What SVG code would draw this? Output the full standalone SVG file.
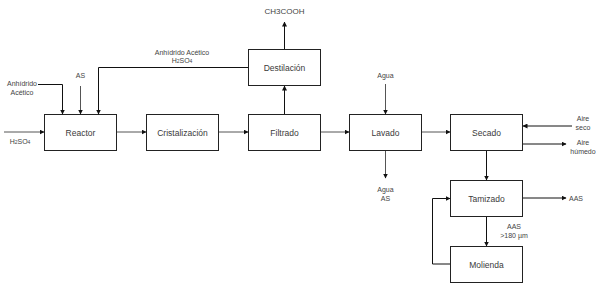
<svg xmlns="http://www.w3.org/2000/svg" width="600" height="285" viewBox="0 0 600 285">
  <style>
    .box rect { fill: #fff; stroke: #222; stroke-width: 1; }
    .box text { font-family: "Liberation Sans", Arial, sans-serif; font-size: 8.5px; fill: #3a3a3a; text-anchor: middle; dominant-baseline: central; }
    .lbl { font-family: "Liberation Sans", Arial, sans-serif; font-size: 7px; fill: #444; text-anchor: middle; }
    .edge { fill: none; stroke: #111; stroke-width: 1; marker-end: url(#arr); }
    .main { stroke: #555; }
    .sub { font-size: 5px; }
  </style>
  <defs>
    <marker id="arr" viewBox="0 0 10 10" refX="9" refY="5" markerWidth="5" markerHeight="5" orient="auto" markerUnits="userSpaceOnUse">
      <path d="M0,0 L10,5 L0,10 z" fill="#111"/>
    </marker>
  </defs>
  <rect width="600" height="285" fill="#fff"/>

  <!-- process units -->
  <g id="reactor" class="box"><rect x="44.5" y="114.5" width="72" height="36"/><text x="80.5" y="132.5">Reactor</text></g>
  <g id="cristalizacion" class="box"><rect x="146.5" y="114.5" width="72" height="36"/><text x="182.5" y="132.5">Cristalización</text></g>
  <g id="filtrado" class="box"><rect x="248.5" y="114.5" width="72" height="36"/><text x="284.5" y="132.5">Filtrado</text></g>
  <g id="destilacion" class="box"><rect x="248.5" y="49.5" width="72" height="36"/><text x="284.5" y="67.5">Destilación</text></g>
  <g id="lavado" class="box"><rect x="349.5" y="114.5" width="72" height="36"/><text x="385.5" y="132.5">Lavado</text></g>
  <g id="secado" class="box"><rect x="450.5" y="114.5" width="72" height="36"/><text x="486.5" y="132.5">Secado</text></g>
  <g id="tamizado" class="box"><rect x="450.5" y="180.5" width="72" height="36"/><text x="486.5" y="198.5">Tamizado</text></g>
  <g id="molienda" class="box"><rect x="450.5" y="246.5" width="72" height="36"/><text x="486.5" y="264.5">Molienda</text></g>

  <!-- streams -->
  <g id="connectors">
    <path class="edge main" d="M4,132 H44"/>
    <path class="edge" d="M38,84.5 H62.5 V114"/>
    <path class="edge main" d="M80.5,86 V114"/>
    <path class="edge" d="M248,67.5 H98.5 V114"/>
    <path class="edge main" d="M117,132 H146"/>
    <path class="edge main" d="M219,132 H248"/>
    <path class="edge" d="M284.5,114 V86"/>
    <path class="edge" d="M284.5,49 V22"/>
    <path class="edge main" d="M321,132 H349"/>
    <path class="edge main" d="M385.5,84 V114"/>
    <path class="edge main" d="M385.5,151 V178"/>
    <path class="edge main" d="M422,132 H450"/>
    <path class="edge" d="M572,126 H523"/>
    <path class="edge" d="M523,144 H566"/>
    <path class="edge" d="M486.5,151 V180"/>
    <path class="edge" d="M523,198 H566"/>
    <path class="edge" d="M486.5,217 V246"/>
    <path class="edge" d="M450,264 H432.5 V198.5 H450"/>
  </g>

  <!-- stream labels -->
  <text class="lbl" x="22" y="86">Anhídrido</text>
  <text class="lbl" x="22" y="95">Acético</text>
  <text class="lbl" x="80.5" y="78">AS</text>
  <text class="lbl" x="20" y="144">H<tspan class="sub">2</tspan>SO<tspan class="sub">4</tspan></text>
  <text class="lbl" x="182" y="55">Anhídrido Acético</text>
  <text class="lbl" x="182" y="63">H<tspan class="sub">2</tspan>SO<tspan class="sub">4</tspan></text>
  <text class="lbl" x="284.5" y="14" style="font-size:8px">CH3COOH</text>
  <text class="lbl" x="385.5" y="78">Agua</text>
  <text class="lbl" x="385.5" y="192">Agua</text>
  <text class="lbl" x="385.5" y="201">AS</text>
  <text class="lbl" x="583" y="121">Aire</text>
  <text class="lbl" x="583" y="130">seco</text>
  <text class="lbl" x="583" y="145">Aire</text>
  <text class="lbl" x="583" y="154">húmedo</text>
  <text class="lbl" x="576" y="201">AAS</text>
  <text class="lbl" x="514" y="229">AAS</text>
  <text class="lbl" x="514" y="238">&gt;180 µm</text>
</svg>
